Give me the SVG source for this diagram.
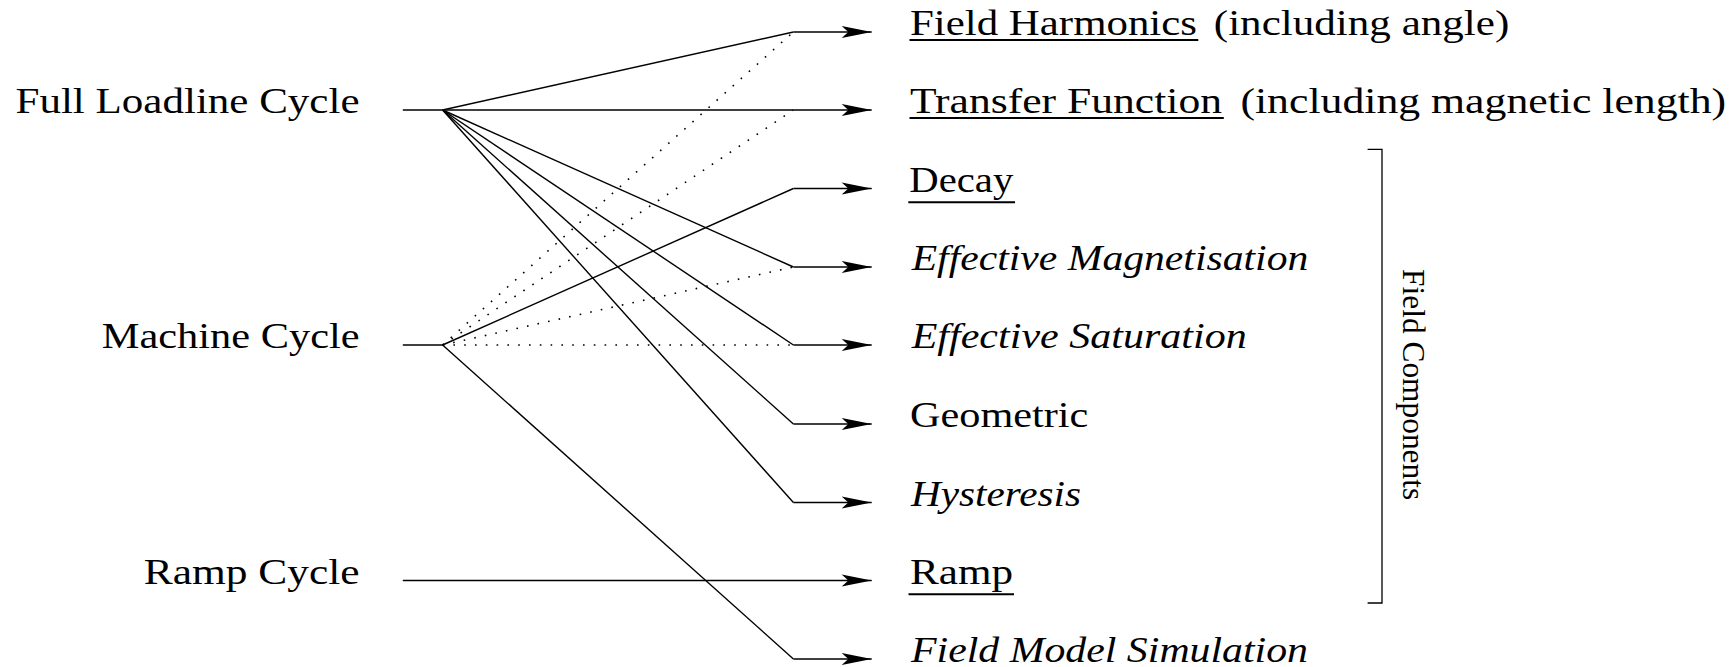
<svg xmlns="http://www.w3.org/2000/svg" width="1735" height="667" viewBox="0 0 1735 667">
<style>
text{font-family:"Liberation Serif","Times New Roman",serif;font-size:35px;fill:#000}
.it{font-style:italic}
.fc{font-size:31px}
.ln{fill:none;stroke:#000;stroke-width:1.4}
.dot{fill:none;stroke:#000;stroke-width:1.6;stroke-dasharray:1.6 9.2}
.stub{fill:none;stroke:#000;stroke-width:1.7}
.ul{stroke:#000;stroke-width:2}
</style>
<defs>
<marker id="ah" markerUnits="userSpaceOnUse" markerWidth="32" markerHeight="14" refX="30" refY="6" orient="auto" overflow="visible">
<path d="M0,0 L30,6 L0,12 L6.6,6 Z" fill="#000"/>
</marker>
</defs>
<rect width="1735" height="667" fill="#fff"/>

<g id="src-full-loadline">
<text x="15.5" y="113.3" textLength="344" lengthAdjust="spacingAndGlyphs">Full Loadline Cycle</text>
</g>
<g id="src-machine">
<text x="101.8" y="348.3" textLength="257.8" lengthAdjust="spacingAndGlyphs">Machine Cycle</text>
</g>
<g id="src-ramp">
<text x="143.8" y="583.8" textLength="215.8" lengthAdjust="spacingAndGlyphs">Ramp Cycle</text>
</g>

<g id="t-field-harmonics">
<text x="910" y="35.3" textLength="287" lengthAdjust="spacingAndGlyphs">Field Harmonics</text>
<text x="1213.8" y="35.3" textLength="295.5" lengthAdjust="spacingAndGlyphs">(including angle)</text>
<line class="ul" x1="909.5" y1="40" x2="1198.3" y2="40"/>
</g>
<g id="t-transfer-function">
<text x="910" y="113.3" textLength="312" lengthAdjust="spacingAndGlyphs">Transfer Function</text>
<text x="1240.4" y="113.3" textLength="485.8" lengthAdjust="spacingAndGlyphs">(including magnetic length)</text>
<line class="ul" x1="909.5" y1="118" x2="1223.8" y2="118"/>
</g>
<g id="t-decay">
<text x="909.3" y="191.8" textLength="104" lengthAdjust="spacingAndGlyphs">Decay</text>
<line class="ul" x1="908.3" y1="202.3" x2="1015" y2="202.3"/>
</g>
<g id="t-eff-mag">
<text class="it" x="911.7" y="270.3" textLength="396.6" lengthAdjust="spacingAndGlyphs">Effective Magnetisation</text>
</g>
<g id="t-eff-sat">
<text class="it" x="911.7" y="348.3" textLength="335" lengthAdjust="spacingAndGlyphs">Effective Saturation</text>
</g>
<g id="t-geometric">
<text x="910" y="427.3" textLength="178.3" lengthAdjust="spacingAndGlyphs">Geometric</text>
</g>
<g id="t-hysteresis">
<text class="it" x="911" y="505.8" textLength="170" lengthAdjust="spacingAndGlyphs">Hysteresis</text>
</g>
<g id="t-ramp">
<text x="910" y="583.8" textLength="103" lengthAdjust="spacingAndGlyphs">Ramp</text>
<line class="ul" x1="908.5" y1="594.3" x2="1014" y2="594.3"/>
</g>
<g id="t-fms">
<text class="it" x="911" y="662" textLength="397" lengthAdjust="spacingAndGlyphs">Field Model Simulation</text>
</g>

<g id="field-components">
<path d="M1367.6,149.4 H1382 V603 H1367.6" fill="none" stroke="#000" stroke-width="1.3"/>
<text class="fc" x="0" y="0" text-anchor="middle" textLength="231" lengthAdjust="spacingAndGlyphs" transform="translate(1403,384.6) rotate(90)">Field Components</text>
</g>

<g id="connectors">
<line class="ln" x1="402.8" y1="110" x2="442.6" y2="110"/>
<line class="ln" x1="402.8" y1="345" x2="442.6" y2="345"/>
<line class="ln" x1="442.6" y1="110" x2="793.4" y2="32"/>
<line class="ln" x1="442.6" y1="110" x2="793.4" y2="110"/>
<line class="ln" x1="442.6" y1="110" x2="793.4" y2="267"/>
<line class="ln" x1="442.6" y1="110" x2="793.4" y2="345"/>
<line class="ln" x1="442.6" y1="110" x2="793.4" y2="424"/>
<line class="ln" x1="442.6" y1="110" x2="793.4" y2="502.5"/>
<line class="ln" x1="442.6" y1="345" x2="793.4" y2="188.5"/>
<line class="ln" x1="442.6" y1="345" x2="793.4" y2="659"/>
<line class="dot" x1="442.6" y1="345" x2="793.4" y2="32"/>
<line class="dot" x1="442.6" y1="345" x2="793.4" y2="110"/>
<line class="dot" x1="442.6" y1="345" x2="793.4" y2="267"/>
<line class="dot" x1="442.6" y1="345" x2="793.4" y2="345"/>
<line class="stub" x1="793.4" y1="32" x2="871.7" y2="32" marker-end="url(#ah)"/>
<line class="stub" x1="793.4" y1="110" x2="871.7" y2="110" marker-end="url(#ah)"/>
<line class="stub" x1="793.4" y1="188.5" x2="871.7" y2="188.5" marker-end="url(#ah)"/>
<line class="stub" x1="793.4" y1="267" x2="871.7" y2="267" marker-end="url(#ah)"/>
<line class="stub" x1="793.4" y1="345" x2="871.7" y2="345" marker-end="url(#ah)"/>
<line class="stub" x1="793.4" y1="424" x2="871.7" y2="424" marker-end="url(#ah)"/>
<line class="stub" x1="793.4" y1="502.5" x2="871.7" y2="502.5" marker-end="url(#ah)"/>
<line class="stub" x1="402.8" y1="580.5" x2="871.7" y2="580.5" marker-end="url(#ah)"/>
<line class="stub" x1="793.4" y1="659" x2="871.7" y2="659" marker-end="url(#ah)"/>
</g>
</svg>
